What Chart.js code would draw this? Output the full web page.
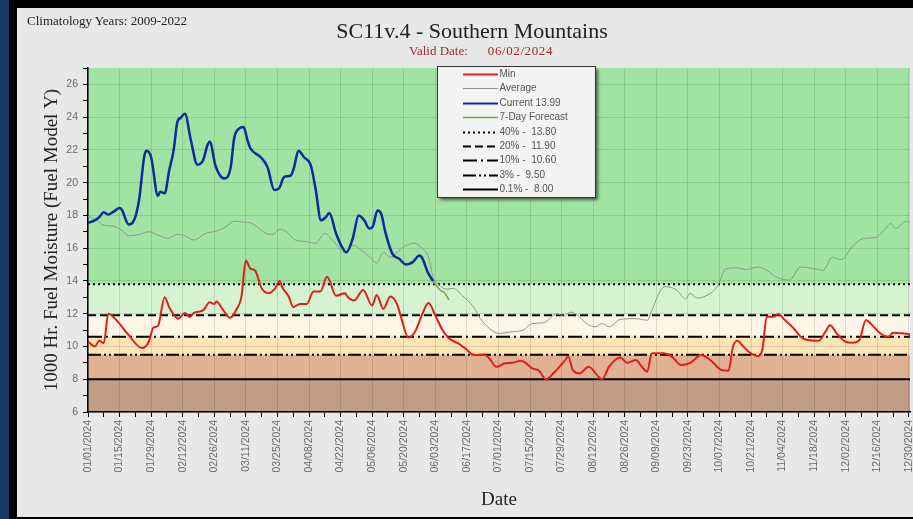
<!DOCTYPE html>
<html>
<head>
<meta charset="utf-8">
<script src="https://cdn.jsdelivr.net/npm/chart.js@4.4.1/dist/chart.umd.min.js"></script>
<style>
  html, body { margin: 0; padding: 0; }
  body { width: 913px; height: 519px; background: #000; position: relative; overflow: hidden; }
  #edge { position: absolute; left: 0; top: 0; width: 9px; height: 519px; background: #173a66; }
  #panel { position: absolute; left: 17px; top: 8px; width: 896px; height: 509px; background: #e8e8e8; }
  #chart { position: absolute; left: 0; top: 0; }
  .txt { position: absolute; font-family: "Liberation Serif", "DejaVu Serif", serif; white-space: nowrap; }
  #clim { left: 10px; top: 6px; font-size: 13px; line-height: 13px; color: #222; }
  #title { left: 255px; width: 400px; top: 12px; text-align: center; font-size: 22px; line-height: 22px; color: #222; }
  #valid { left: 314px; width: 300px; top: 36px; text-align: center; font-size: 13px; line-height: 13px; color: #a3262a; }
  #valid span { margin-left: 20px; letter-spacing: 0.6px; }
</style>
</head>
<body>
<div id="edge"></div>
<div id="panel">
  <canvas id="chart" width="896" height="509"></canvas>
  <div class="txt" id="clim">Climatology Years: 2009-2022</div>
  <div class="txt" id="title">SC11v.4 - Southern Mountains</div>
  <div class="txt" id="valid">Valid Date:<span>06/02/2024</span></div>
</div>
<script>
// --- data (day of year 2024, value) ---
const minSeries = [
  [0,10.3],[3,10.0],[5,10.35],[7,10.2],[9,12.0],[12,11.7],[18,10.7],[24,9.9],[27,10.3],[29,11.15],
  [31,11.25],[34,13.0],[36,12.4],[40,11.7],[43,12.05],[45,11.8],[47,12.05],[51,12.2],[54,12.7],[56,12.6],
  [57,12.75],[60,12.2],[63,11.75],[66,12.3],[68,13.0],[70,15.25],[72,14.75],[74,14.65],[77,13.55],[80,13.25],
  [83,13.55],[85,14.0],[86,13.65],[89,13.05],[91,12.4],[94,12.6],[97,12.6],[100,13.35],[103,13.35],[106,14.25],
  [110,13.1],[114,13.25],[115,13.05],[118,12.8],[122,13.45],[126,12.5],[128,13.15],[131,12.3],[134,13.05],[137,12.6],
  [139,11.7],[142,10.55],[145,10.9],[148,11.9],[151,12.65],[154,11.9],[157,11.05],[160,10.5],[164,10.2],[168,9.8],
  [171,9.48],[176,9.48],[178,9.27],[181,8.76],[185,8.97],[188,9.0],[192,9.13],[194,9.0],[197,8.66],[200,8.52],
  [203,8.0],[207,8.46],[211,9.07],[213,9.37],[215,8.56],[218,8.36],[222,8.76],[228,8.0],[231,8.76],[236,9.33],
  [239,9.0],[243,9.17],[245,8.87],[248,8.46],[250,9.58],[255,9.58],[259,9.37],[263,8.87],[267,9.0],[272,9.48],
  [276,9.17],[281,8.56],[284,8.52],[286,9.98],[288,10.35],[290,10.09],[293,9.68],[297,9.41],[299,9.78],[301,11.81],
  [304,11.81],[306,11.98],[309,11.61],[313,11.1],[316,10.59],[319,10.39],[324,10.35],[327,10.9],[329,11.3],[332,10.8],
  [336,10.29],[339,10.23],[342,10.39],[345,11.61],[347,11.41],[351,10.84],[355,10.59],[357,10.84],[361,10.8],[364,10.76],
  [365,10.49]
];
const averageSeries = [
  [0,17.95],[4,17.7],[7,17.4],[11,17.35],[15,17.1],[18,16.75],[23,16.85],[27,17.0],[31,16.8],[35,16.6],
  [40,16.85],[43,16.75],[47,16.5],[52,16.9],[57,17.05],[61,17.3],[65,17.65],[68,17.6],[72,17.55],[75,17.3],
  [79,16.9],[82,16.85],[85,17.15],[88,17.0],[92,16.5],[97,16.4],[101,16.3],[105,16.9],[109,16.4],[114,15.7],
  [117,16.2],[121,15.9],[125,15.45],[128,15.1],[131,15.75],[134,15.45],[140,16.1],[145,16.3],[148,16.0],[151,15.45],
  [153,14.25],[155,13.85],[159,13.5],[162,13.55],[166,13.1],[171,12.4],[174,11.7],[178,11.1],[182,10.8],[188,10.9],
  [193,11.0],[197,11.4],[202,11.45],[208,12.0],[211,11.85],[214,12.1],[218,11.8],[221,11.4],[225,11.2],[228,11.4],
  [231,11.2],[236,11.65],[243,11.7],[248,11.6],[250,12.2],[254,13.45],[256,13.65],[261,13.45],[265,12.9],[267,13.25],
  [270,12.95],[276,13.25],[279,13.65],[283,14.75],[288,14.8],[292,14.7],[297,14.85],[301,14.65],[305,14.25],[311,14.05],
  [316,14.85],[322,14.75],[326,14.65],[330,15.45],[334,15.3],[339,16.1],[344,16.6],[349,16.65],[353,17.1],[356,17.5],
  [358,17.2],[363,17.65],[365,17.55]
];
const currentSeries = [
  [0,17.55],[3,17.7],[5,17.9],[7,18.2],[9,18.05],[11,18.2],[14,18.45],[15,18.35],[18,17.45],[20,17.6],
  [22.6,18.9],[25,21.65],[26,21.95],[28,21.55],[31,19.2],[32,19.45],[34,19.35],[36,20.75],[38,22.0],[39.6,23.7],
  [41,23.95],[43,24.2],[45.6,22.6],[48.5,21.1],[51,21.35],[53,22.3],[54,22.5],[56.6,21.0],[60.4,20.25],[63.3,20.95],
  [64.8,22.7],[67,23.3],[69,23.4],[70.7,22.6],[72,22.1],[76.6,21.55],[79.6,20.95],[82.6,19.55],[84.7,19.65],[87,20.35],
  [90,20.45],[91.4,20.95],[93.3,21.95],[95.8,21.55],[98.8,21.05],[101,19.55],[103.3,17.7],[105.5,17.9],[107,18.15],[110,16.9],
  [112.9,16.0],[114.7,15.75],[117.4,16.6],[120,18.0],[122.5,17.7],[124.7,17.2],[126.2,17.3],[128.4,18.3],[130,18.1],[132,16.9],
  [135,15.65],[138,15.35],[141,15.0],[144,15.15],[147,15.55],[148.4,15.35],[150.6,14.55],[153,13.99]
];
const forecastSeries = [[153,13.99],[156.5,13.4],[158,13.3],[160,12.85]];

const thresholdLabels = ['40% -  13.80', '20% -  11.90', '10% -  10.60', '3% -  9.50', '0.1% -  8.00'];
const thresholdValues = [13.8, 11.9, 10.6, 9.5, 8.0];
const thresholdDashes = [[2, 3], [8, 4], [14, 4, 2, 4], [13, 3, 2, 3, 2, 3], []];

const bandEdges = [6, 8.0, 9.5, 10.6, 11.9, 13.8, 27];
const bandColors = ['#c29d85', '#e0b192', '#fce5b5', '#fdf6e6', '#d6f3cf', '#a1e3a3'];

const xTickLabels = ['01/01/2024','01/15/2024','01/29/2024','02/12/2024','02/26/2024','03/11/2024','03/25/2024',
  '04/08/2024','04/22/2024','05/06/2024','05/20/2024','06/03/2024','06/17/2024','07/01/2024','07/15/2024',
  '07/29/2024','08/12/2024','08/26/2024','09/09/2024','09/23/2024','10/07/2024','10/21/2024','11/04/2024',
  '11/18/2024','12/02/2024','12/16/2024','12/30/2024'];
const xTickDays = [];
for (let d = 0; d <= 364; d += 7) xTickDays.push(d);

const toPoints = arr => arr.map(([x, y]) => ({ x, y }));
const X_MAX = 364.5;

// --- datasets (legendRank = position in legend box) ---
const datasets = [
  { label: 'Current 13.99', legendRank: 2, data: toPoints(currentSeries), borderColor: '#10299c', borderWidth: 2.5 },
  { label: 'Min', legendRank: 0, data: toPoints(minSeries), borderColor: '#e01e1e', borderWidth: 2 },
  { label: '7-Day Forecast', legendRank: 3, data: toPoints(forecastSeries), borderColor: '#6fa64f', borderWidth: 1.5 },
  { label: 'Average', legendRank: 1, data: toPoints(averageSeries), borderColor: '#8e968e', borderWidth: 1 }
];
thresholdValues.forEach((v, i) => {
  datasets.push({
    label: thresholdLabels[i], legendRank: 4 + i,
    data: [{ x: 0, y: v }, { x: X_MAX, y: v }],
    borderColor: '#000', borderWidth: 2, borderDash: thresholdDashes[i], tension: 0
  });
});

// --- plugins ---
const bandsPlugin = {
  id: 'bands',
  beforeDraw(chart) {
    const { ctx, chartArea: a, scales: { y } } = chart;
    ctx.save();
    for (let i = 0; i < bandColors.length; i++) {
      const top = y.getPixelForValue(bandEdges[i + 1]);
      const bot = y.getPixelForValue(bandEdges[i]);
      ctx.fillStyle = bandColors[i];
      ctx.fillRect(a.left, top, a.right - a.left, bot - top);
    }
    ctx.restore();
  }
};

const boxLegendPlugin = {
  id: 'boxLegend',
  afterDraw(chart) {
    const ctx = chart.ctx;
    const x0 = 420, y0 = 58, w = 158, h = 131;
    ctx.save();
    ctx.shadowColor = 'rgba(0,0,0,0.55)';
    ctx.shadowOffsetX = 3; ctx.shadowOffsetY = 3; ctx.shadowBlur = 3;
    ctx.fillStyle = '#f3f3f3';
    ctx.fillRect(x0, y0, w, h);
    ctx.restore();

    ctx.save();
    ctx.strokeStyle = '#333';
    ctx.lineWidth = 1;
    ctx.strokeRect(x0 + 0.5, y0 + 0.5, w, h);
    ctx.font = '10px "Liberation Sans", Arial, sans-serif';
    ctx.textBaseline = 'middle';
    const items = chart.data.datasets.slice().sort((p, q) => p.legendRank - q.legendRank);
    items.forEach((ds, i) => {
      const y = Math.round(y0 + 8 + i * 14.4) + 0.5;
      ctx.strokeStyle = ds.borderColor;
      ctx.lineWidth = ds.legendRank >= 4 ? 2 : Math.min(ds.borderWidth, 2);
      ctx.setLineDash(ds.borderDash || []);
      ctx.beginPath();
      ctx.moveTo(446, y);
      ctx.lineTo(481, y);
      ctx.stroke();
      ctx.setLineDash([]);
      ctx.fillStyle = '#555';
      ctx.fillText(ds.label, 482.5, y);
    });
    ctx.restore();
  }
};

const gridColor = 'rgba(0,0,0,0.11)';
const tickFont = { family: '"Liberation Sans", Arial, sans-serif', size: 10.5 };
const titleFont = { family: '"Liberation Serif", serif', size: 19 };

new Chart(document.getElementById('chart'), {
  type: 'line',
  data: { datasets },
  options: {
    responsive: false,
    animation: false,
    events: [],
    layout: { padding: { left: 0, top: 60, right: 3, bottom: 0 } },
    elements: {
      point: { radius: 0 },
      line: { tension: 0.35, cubicInterpolationMode: 'monotone', fill: false }
    },
    plugins: { legend: { display: false }, tooltip: { enabled: false } },
    scales: {
      x: {
        type: 'linear',
        min: 0,
        max: X_MAX,
        afterBuildTicks: s => { s.ticks = xTickDays.map(v => ({ value: v })); },
        afterFit: s => { s.height = 105; s.paddingLeft = 0; s.paddingRight = 0; },
        border: { color: '#000', width: 1.5 },
        grid: {
          color: c => (c.tick && c.tick.value % 14 === 0 ? gridColor : 'rgba(0,0,0,0)'),
          tickColor: '#000',
          tickLength: 5
        },
        ticks: {
          autoSkip: false,
          minRotation: 90,
          maxRotation: 90,
          padding: 3,
          color: '#6a6a6a',
          font: tickFont,
          callback: v => (v % 14 === 0 ? xTickLabels[v / 14] : '')
        },
        title: { display: true, text: 'Date', color: '#222', font: titleFont, padding: { top: 0, bottom: 6 } }
      },
      y: {
        min: 6,
        max: 27,
        afterFit: s => { s.width = 71; s.paddingTop = 0; s.paddingBottom = 0; },
        border: { color: '#000', width: 1.5 },
        grid: {
          color: c => (c.tick && c.tick.value % 2 === 0 ? gridColor : 'rgba(0,0,0,0)'),
          tickColor: '#000',
          tickLength: 5
        },
        ticks: {
          stepSize: 1,
          padding: 5,
          color: '#6a6a6a',
          font: tickFont,
          callback: v => (v % 2 === 0 ? v : '')
        },
        title: { display: true, text: '1000 Hr. Fuel Moisture (Fuel Model Y)', color: '#222', font: titleFont, padding: { top: 24, bottom: 0 } }
      }
    }
  },
  plugins: [bandsPlugin, boxLegendPlugin]
});
</script>
</body>
</html>
